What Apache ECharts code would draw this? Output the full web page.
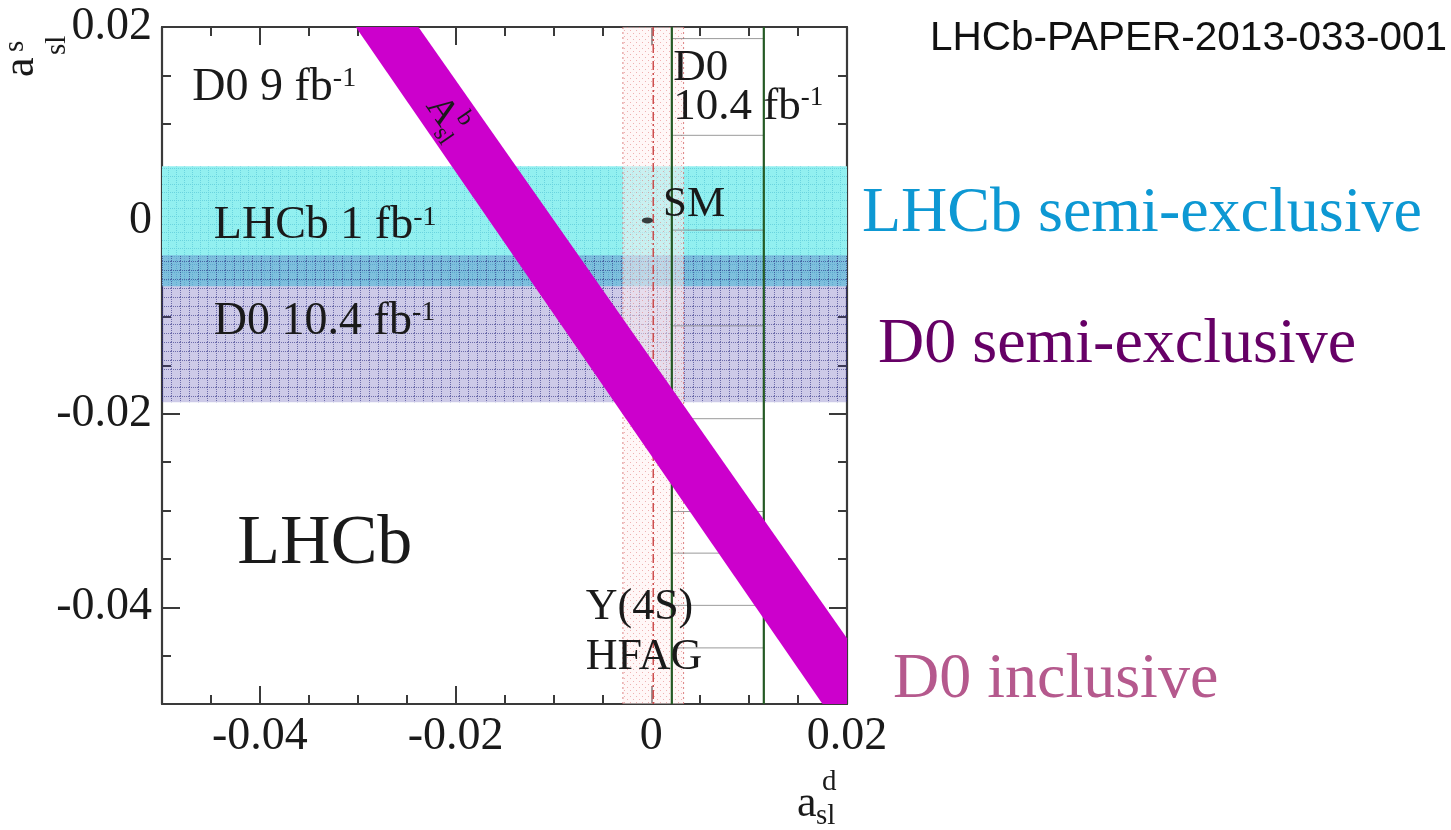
<!DOCTYPE html>
<html><head><meta charset="utf-8">
<script src="https://cdn.jsdelivr.net/npm/echarts@6/dist/echarts.min.js"></script>
<style>html,body{margin:0;padding:0;background:#fff}#c{width:1451px;height:830px}</style>
</head><body><div id="c"></div>
<script>
// ---------- data ----------
const X_RANGE = [-0.05, 0.02];   // a_sl^d
const Y_RANGE = [-0.05, 0.02];   // a_sl^s
const xMajorTicks = [-0.04, -0.02, 0, 0.02];
const yMajorTicks = [-0.04, -0.02, 0, 0.02];
const xMinorTicks = [-0.045, -0.035, -0.03, -0.025, -0.015, -0.01, -0.005, 0.005, 0.01, 0.015];
const yMinorTicks = [-0.045, -0.035, -0.03, -0.025, -0.015, -0.01, -0.005, 0.005, 0.01, 0.015];
const lhcbSemiExclS = [-0.0068, 0.0056];     // LHCb 1 fb-1, a_sl^s interval
const d0SemiExclS = [-0.0188, -0.0036];      // D0 10.4 fb-1, a_sl^s interval
const d0SemiExclD = [0.0021, 0.0115];        // D0 10.4 fb-1, a_sl^d interval
const d0HatchY = [0.0188, 0.0088, -0.0010, -0.0109, -0.0205, -0.0301, -0.0344, -0.0398, -0.0442];
const hfagD = [-0.0029, 0.0033];             // Y(4S) HFAG a_sl^d interval
const hfagCentral = 0.0002;
const smPoint = [-0.0004, 0.0000];
const d0InclusiveBand = [[-0.0302, 0.02], [-0.0238, 0.02], [0.02, -0.0432], [0.02, -0.05], [0.0175, -0.05]];
const annotations = [
  {main: 'D0 9 fb', sup: '-1', at: [-0.0469, 0.01375], size: 46},
  {main: 'LHCb 1 fb', sup: '-1', at: [-0.0447, -0.0006], size: 46},
  {main: 'D0 10.4 fb', sup: '-1', at: [-0.0447, -0.0105], size: 46},
  {main: 'LHCb', sup: '', at: [-0.0423, -0.0335], size: 70},
  {main: 'D0', sup: '', at: [0.00225, 0.0157], size: 45},
  {main: '10.4 fb', sup: '-1', at: [0.00225, 0.0117], size: 45},
  {main: 'SM', sup: '', at: [0.0012, 0.00165], size: 43},
  {main: 'Y(4S)', sup: '', at: [-0.0067, -0.0400], size: 44},
  {main: 'HFAG', sup: '', at: [-0.0067, -0.0452], size: 44}
];
const bandLabelAt = [-0.02145, 0.01127];

// ---------- styles ----------
const SERIF = '"Liberation Serif", "Times New Roman", serif';
const SANS = '"Liberation Sans", Arial, sans-serif';
const AX = '#3a3a3a';
function pattern(w, h, bg, dot, dots) {
  const c = document.createElement('canvas'); c.width = w; c.height = h;
  const g = c.getContext('2d');
  g.clearRect(0, 0, w, h);
  g.fillStyle = bg; g.fillRect(0, 0, w, h);
  g.fillStyle = dot;
  dots.forEach(d => g.fillRect(d[0], d[1], d[2], d[3]));
  return {image: c, repeat: 'repeat'};
}
const gridDots = (n, step) => { const a = []; for (let i = 0; i < n; i += step) { a.push([i, 0, 1, 1]); if (i) a.push([0, i, 1, 1]); } return a; };
const cyanFill = pattern(8, 8, 'rgb(146,240,240)', 'rgba(90,200,215,0.7)', gridDots(8, 2));
const purpleFill = pattern(9, 9, 'rgba(70,60,170,0.27)', 'rgba(30,30,120,0.55)', gridDots(9, 2));
const pinkFill = pattern(6, 6, 'rgba(255,240,240,0.5)', 'rgba(225,120,120,0.55)', [[0, 0, 1, 1], [3, 3, 1, 1]]);

function hBand(range, fill, z) {
  return {
    type: 'custom', coordinateSystem: 'cartesian2d', silent: true, z,
    data: [[X_RANGE[0], range[0], X_RANGE[1], range[1]]],
    renderItem: (p, api) => {
      const a = api.coord([api.value(0), api.value(3)]);
      const b = api.coord([api.value(2), api.value(1)]);
      return {type: 'rect', shape: {x: a[0], y: a[1], width: b[0] - a[0], height: b[1] - a[1]}, style: {fill}};
    }
  };
}

const seriesList = [
  hBand(lhcbSemiExclS, cyanFill, 1),
  hBand(d0SemiExclS, purpleFill, 2),
  // HFAG vertical band
  {
    type: 'custom', coordinateSystem: 'cartesian2d', silent: true, z: 3,
    data: [[hfagD[0], Y_RANGE[0], hfagD[1], Y_RANGE[1], hfagCentral]],
    renderItem: (p, api) => {
      const a = api.coord([api.value(0), api.value(3)]);
      const b = api.coord([api.value(2), api.value(1)]);
      const c = api.coord([api.value(4), api.value(1)]);
      const edge = {stroke: 'rgba(215,110,110,0.85)', lineWidth: 1, lineDash: [2, 3]};
      return {type: 'group', children: [
        {type: 'rect', shape: {x: a[0], y: a[1], width: b[0] - a[0], height: b[1] - a[1]}, style: {fill: pinkFill}},
        {type: 'line', shape: {x1: a[0], y1: a[1], x2: a[0], y2: b[1]}, style: edge},
        {type: 'line', shape: {x1: b[0], y1: a[1], x2: b[0], y2: b[1]}, style: edge},
        {type: 'line', shape: {x1: c[0], y1: a[1], x2: c[0], y2: b[1]}, style: {stroke: 'rgba(200,60,60,0.9)', lineWidth: 1.5, lineDash: [9, 3, 2, 3]}}
      ]};
    }
  },
  // D0 semi-exclusive a_sl^d band: hatch lines
  {
    type: 'custom', coordinateSystem: 'cartesian2d', silent: true, z: 4,
    data: d0HatchY.map(y => [d0SemiExclD[0], y, d0SemiExclD[1]]),
    renderItem: (p, api) => {
      const a = api.coord([api.value(0), api.value(1)]);
      const b = api.coord([api.value(2), api.value(1)]);
      return {type: 'line', shape: {x1: a[0], y1: a[1], x2: b[0], y2: b[1]}, style: {stroke: 'rgba(120,120,120,0.75)', lineWidth: 1}};
    }
  },
  // D0 semi-exclusive a_sl^d band: edges
  {
    type: 'custom', coordinateSystem: 'cartesian2d', silent: true, z: 4,
    data: d0SemiExclD.map(x => [x, Y_RANGE[0], Y_RANGE[1]]),
    renderItem: (p, api) => {
      const a = api.coord([api.value(0), api.value(1)]);
      const b = api.coord([api.value(0), api.value(2)]);
      return {type: 'line', shape: {x1: a[0], y1: a[1], x2: b[0], y2: b[1]}, style: {stroke: '#245a24', lineWidth: 2.2}};
    }
  },
  // D0 inclusive A_sl^b band
  {
    type: 'custom', coordinateSystem: 'cartesian2d', silent: true, z: 5,
    data: d0InclusiveBand,
    renderItem: (p, api) => {
      if (p.dataIndex !== 0) return null;
      return {type: 'polygon', shape: {points: d0InclusiveBand.map(v => api.coord(v))}, style: {fill: '#cc00cc'}};
    }
  },
  // SM point
  {
    type: 'scatter', silent: true, z: 6, symbol: 'circle', symbolSize: [11, 6],
    itemStyle: {color: '#111'}, data: [smPoint]
  },
  // text annotations
  {
    type: 'custom', coordinateSystem: 'cartesian2d', silent: true, z: 7,
    data: annotations.map((a, i) => [a.at[0], a.at[1], i]),
    renderItem: (p, api) => {
      const a = annotations[api.value(2)];
      const pt = api.coord([api.value(0), api.value(1)]);
      const rich = {
        m: {fontSize: a.size, fontFamily: SERIF, fill: '#1a1a1a'},
        s: {fontSize: Math.round(a.size * 0.6), fontFamily: SERIF, fill: '#1a1a1a', verticalAlign: 'top'}
      };
      return {type: 'text', x: pt[0], y: pt[1], style: {
        text: '{m|' + a.main + '}' + (a.sup ? '{s|' + a.sup + '}' : ''),
        rich, align: 'left', verticalAlign: 'middle'
      }};
    }
  },
  // rotated A_sl^b label
  {
    type: 'custom', coordinateSystem: 'cartesian2d', silent: true, z: 7,
    data: [bandLabelAt],
    renderItem: (p, api) => {
      const pt = api.coord([api.value(0), api.value(1)]);
      const st = (t, s) => ({text: t, fontSize: s, fontFamily: SERIF, fill: '#1a1a1a', align: 'left', verticalAlign: 'middle'});
      return {type: 'group', x: pt[0], y: pt[1], rotation: -55.2 * Math.PI / 180, children: [
        {type: 'text', x: -14, y: 0, style: st('A', 38)},
        {type: 'text', x: 13, y: -15, style: st('b', 24)},
        {type: 'text', x: 13, y: 13, style: st('sl', 24)}
      ]};
    }
  }
];

function axisPair(kind, pos, major, minor, labels) {
  const base = {type: 'value', min: kind === 'x' ? X_RANGE[0] : Y_RANGE[0], max: kind === 'x' ? X_RANGE[1] : Y_RANGE[1],
    position: pos, splitLine: {show: false}, scale: false};
  const lbl = labels ? {show: true, customValues: major, fontSize: 46, fontFamily: SERIF, color: '#1a1a1a', margin: 10,
    formatter: v => (Math.abs(v) < 1e-12 ? '0' : String(+v.toFixed(3)))} : {show: false};
  return [
    Object.assign({}, base, {
      axisLine: {show: true, onZero: false, lineStyle: {color: AX, width: 2.2}},
      axisTick: {show: true, inside: true, length: 18, customValues: major, lineStyle: {color: AX, width: 2}},
      axisLabel: lbl
    }),
    Object.assign({}, base, {
      axisLine: {show: false, onZero: false},
      axisTick: {show: true, inside: true, length: 9, customValues: minor, lineStyle: {color: AX, width: 2}},
      axisLabel: {show: false}
    })
  ];
}

const chart = echarts.init(document.getElementById('c'), null, {renderer: 'canvas'});
chart.setOption({
  animation: false,
  backgroundColor: '#fff',
  grid: {left: 162, right: 604, top: 27, bottom: 126, containLabel: false},
  xAxis: [].concat(axisPair('x', 'bottom', xMajorTicks, xMinorTicks, true), axisPair('x', 'top', xMajorTicks, xMinorTicks, false)),
  yAxis: [].concat(axisPair('y', 'left', yMajorTicks, yMinorTicks, true), axisPair('y', 'right', yMajorTicks, yMinorTicks, false)),
  series: seriesList,
  graphic: [
    // x axis title a_sl^d
    {type: 'text', left: 797, top: 782, style: {text: 'a', fontSize: 44, fontFamily: SERIF, fill: '#1a1a1a'}},
    {type: 'text', left: 822, top: 768, style: {text: 'd', fontSize: 29, fontFamily: SERIF, fill: '#1a1a1a'}},
    {type: 'text', left: 816, top: 802, style: {text: 'sl', fontSize: 29, fontFamily: SERIF, fill: '#1a1a1a'}},
    // y axis title a_sl^s (rotated)
    {type: 'group', x: 0, y: 0, children: [
      {type: 'text', x: 21, y: 77, rotation: Math.PI / 2, style: {text: 'a', fontSize: 44, fontFamily: SERIF, fill: '#1a1a1a', align: 'left', verticalAlign: 'middle'}},
      {type: 'text', x: 15, y: 52, rotation: Math.PI / 2, style: {text: 's', fontSize: 29, fontFamily: SERIF, fill: '#1a1a1a', align: 'left', verticalAlign: 'middle'}},
      {type: 'text', x: 57, y: 55, rotation: Math.PI / 2, style: {text: 'sl', fontSize: 29, fontFamily: SERIF, fill: '#1a1a1a', align: 'left', verticalAlign: 'middle'}}
    ]},
    // side notes
    {type: 'text', x: 930, y: 39, style: {text: 'LHCb-PAPER-2013-033-001', fontSize: 40.5, fontFamily: SANS, fill: '#111', align: 'left', verticalAlign: 'middle'}},
    {type: 'text', x: 862, y: 214, style: {text: 'LHCb semi-exclusive', fontSize: 64, fontFamily: SERIF, fill: '#0d98d3', align: 'left', verticalAlign: 'middle'}},
    {type: 'text', x: 878, y: 345, style: {text: 'D0 semi-exclusive', fontSize: 64, fontFamily: SERIF, fill: '#660066', align: 'left', verticalAlign: 'middle'}},
    {type: 'text', x: 893, y: 680, style: {text: 'D0 inclusive', fontSize: 64, fontFamily: SERIF, fill: '#b5598d', align: 'left', verticalAlign: 'middle'}}
  ]
});
</script></body></html>
